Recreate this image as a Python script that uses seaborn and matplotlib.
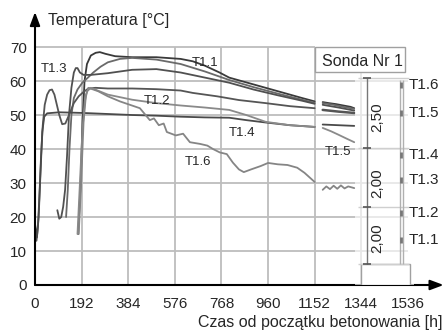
import numpy as np
import pandas as pd
import matplotlib
matplotlib.use('Agg')
import matplotlib.pyplot as plt
from matplotlib.patches import Rectangle
import seaborn as sns

# --- dane (czas [h], temperatura [C]) ---
czas_t11 = [178, 188, 196, 204, 214, 230, 250, 267, 290, 330, 400, 500, 600, 650, 700, 760, 800, 900, 1000, 1100, 1152]
temp_t11 = [15, 30, 48, 60, 65, 67.5, 68.3, 68.5, 68, 67.3, 67, 67, 66.5, 65.8, 64.5, 62.5, 61, 59, 57, 55, 54]
czas_t11_k = [1185, 1210, 1240, 1270, 1300, 1315]
temp_t11_k = [53.8, 53.5, 53.2, 52.8, 52.4, 52]

czas_dod = [128, 135, 142, 150, 160, 175, 195, 218, 240, 270, 300, 350, 400, 500, 600, 700, 800, 900, 1000, 1100, 1152]
temp_dod = [20, 28, 40, 50, 55, 57.5, 59.5, 61, 62.5, 64.2, 65.5, 66.5, 66.8, 66.3, 65, 62.8, 60.3, 58.2, 56.3, 54.5, 53.6]
czas_dod_k = [1185, 1230, 1270, 1315]
temp_dod_k = [53.5, 53, 52.4, 51.8]

czas_t13 = [92, 100, 108, 116, 124, 132, 140, 150, 160, 168, 175, 185, 200, 230, 300, 400, 500, 600, 700, 800, 900, 1000, 1100, 1152]
temp_t13 = [22, 19.5, 20, 23, 28, 38, 50, 58, 62.5, 63.8, 63.8, 62.5, 61.8, 61.8, 62.3, 63.3, 63.5, 62.5, 61, 59.5, 57.5, 55.8, 54.2, 53.3]
czas_t13_k = [1185, 1250, 1315]
temp_t13_k = [53, 52.2, 51.3]

czas_t12 = [0, 6, 12, 18, 25, 32, 40, 50, 60, 70, 80, 90, 100, 112, 125, 140, 160, 180, 200, 220, 250, 300, 400, 500, 600, 650, 750, 840, 950, 1050, 1152]
temp_t12 = [15, 13, 17, 26, 38, 47, 53, 56, 57.3, 57.5, 56, 53, 50, 47.3, 47.5, 50, 53.5, 55.5, 56.8, 57.8, 58, 57.8, 57.8, 57.6, 57.2, 56.5, 55.5, 54.4, 53.5, 52.6, 52]
czas_t12_k = [1185, 1250, 1315]
temp_t12_k = [51.5, 51, 50.6]

czas_t14 = [0, 8, 15, 22, 30, 38, 50, 100, 200, 300, 400, 500, 600, 700, 800, 870, 950, 1050, 1152]
temp_t14 = [18, 14, 20, 32, 45, 49.5, 50.5, 50.8, 50.6, 50.3, 50, 49.8, 49.5, 49.3, 49.2, 48.5, 47.8, 47, 46.5]
czas_t14_k = [1185, 1250, 1315]
temp_t14_k = [47.2, 47, 46.8]

czas_t15 = [175, 185, 195, 205, 215, 230, 300, 400, 500, 600, 700, 800, 870, 950, 1050, 1152]
temp_t15 = [15, 30, 45, 54, 57, 58, 56, 54.5, 53.5, 52.8, 52.2, 51.5, 50, 48, 47, 46.5]
czas_t15_k = [1185, 1220, 1250, 1285, 1315]
temp_t15_k = [46.2, 45.2, 44.2, 43, 42]

czas_t16 = [180, 190, 200, 210, 220, 260, 300, 350, 432, 473, 490, 510, 530, 543, 580, 610, 638, 680, 710, 733, 761, 790, 815, 840, 860, 890, 930, 960, 1000, 1040, 1080, 1110, 1152]
temp_t16 = [15, 30, 48, 56, 58, 57, 55.5, 54, 52, 48.5, 49, 47, 47.5, 45, 44, 44.5, 42, 41.5, 41, 40, 39, 38.5, 36, 34, 33.2, 34, 35, 35.9, 35.5, 35.3, 34.5, 33, 30.3]
czas_t16_k = [1185, 1200, 1215, 1230, 1245, 1260, 1275, 1290, 1315]
temp_t16_k = [28, 29, 28.2, 29.2, 28.3, 29.3, 28.4, 29, 28.5]

sondy = ['T1.1', 'T1.x', 'T1.3', 'T1.2', 'T1.4', 'T1.5', 'T1.6']
serie = [
    (czas_t11, temp_t11, czas_t11_k, temp_t11_k),
    (czas_dod, temp_dod, czas_dod_k, temp_dod_k),
    (czas_t13, temp_t13, czas_t13_k, temp_t13_k),
    (czas_t12, temp_t12, czas_t12_k, temp_t12_k),
    (czas_t14, temp_t14, czas_t14_k, temp_t14_k),
    (czas_t15, temp_t15, czas_t15_k, temp_t15_k),
    (czas_t16, temp_t16, czas_t16_k, temp_t16_k),
]
kolory = {'T1.1': '#3a3a3a', 'T1.x': '#6a6a6a', 'T1.3': '#505050', 'T1.2': '#555555',
          'T1.4': '#4a4a4a', 'T1.5': '#8a8a8a', 'T1.6': '#858585'}

rows = []
for nazwa, (c1, t1, c2, t2) in zip(sondy, serie):
    for c, t in zip(c1, t1):
        rows.append((nazwa, nazwa + '_a', c, t))
    for c, t in zip(c2, t2):
        rows.append((nazwa, nazwa + '_b', c, t))
df = pd.DataFrame(rows, columns=['sonda', 'odcinek', 'czas', 'temp'])

# etykiety krzywych
etykiety = ['T1.1', 'T1.2', 'T1.3', 'T1.4', 'T1.5', 'T1.6']
etyk_x = [700, 502, 78, 852, 1247, 671]
etyk_y = [65.4, 54.1, 63.5, 44.7, 39.0, 36.2]

# schemat sondy
czujniki = ['T1.6', 'T1.5', 'T1.4', 'T1.3', 'T1.2', 'T1.1']
czujniki_y = [58.8, 50.6, 38.2, 30.9, 21.2, 13.2]
wymiary = ['2,50', '2,00', '2,00']
wymiary_y = [49.4, 30.0, 13.8]
kreski_y = [60.9, 40.3, 22.9, 6.2]

sns.set_style('white')
plt.rcParams['font.family'] = ['Liberation Sans', 'DejaVu Sans']

fig = plt.figure(figsize=(4.44, 3.36), dpi=100)
ax = fig.add_axes([35/444, 51/336, 408.6/444, 273/336])
ax.set_xlim(0, 1683)
ax.set_ylim(0, 80.3)

# siatka
siatka = '#bdbdbd'
ax.hlines(np.arange(10, 71, 10), 0, 1152, color=siatka, lw=1.3, zorder=1)
ax.hlines(np.arange(10, 61, 10), 1152, 1536, color=siatka, lw=1.3, zorder=1)
ax.vlines(np.arange(192, 1345, 192), 0, 70, color=siatka, lw=1.3, zorder=1)

sns.lineplot(data=df, x='czas', y='temp', hue='sonda', units='odcinek', estimator=None,
             palette=kolory, legend=False, lw=1.3, ax=ax, zorder=3, sort=False)
ax.lines[-7].set_linewidth(1.8)

for lab, x, y in zip(etykiety, etyk_x, etyk_y):
    ax.text(x, y, lab, fontsize=9.5, ha='center', va='center', zorder=5)

# jasne tlo pod schematem
ax.add_patch(Rectangle((1320, 0), 240, 62.6, fc='white', ec='none', alpha=0.65, zorder=4))
ax.add_patch(Rectangle((1152, 62.6), 371, 7.4, fc='white', ec='#a0a0a0', lw=1, zorder=5))
ax.text(1350, 65.6, 'Sonda Nr 1', fontsize=11.5, ha='center', va='center', zorder=6)

ax.add_patch(Rectangle((1341, 0), 202, 6.2, fc='white', ec='#a0a0a0', lw=1, zorder=5))
ax.vlines([1366], 6.2, 60.9, color='#777777', lw=1, zorder=6)
ax.hlines(kreski_y, 1330, 1540, color='#cfcfcf', lw=1, zorder=5)
ax.plot([1366] * len(kreski_y), kreski_y, ls='none', marker='_', ms=6, mew=1.2, color='#555555', zorder=6)
ax.vlines([1502, 1514], 6.2, 60.3, color='#b0b0b0', lw=1, zorder=5)
ax.plot([1508] * len(czujniki_y), czujniki_y, ls='none', marker='|', ms=5, mew=2, color='#777777', zorder=6)
for lab, y in zip(czujniki, czujniki_y):
    ax.text(1539, y, lab, fontsize=11, ha='left', va='center', zorder=6)
for lab, y in zip(wymiary, wymiary_y):
    ax.text(1411, y, lab, fontsize=11, rotation=90, ha='center', va='center', zorder=6)

# osie ze strzalkami
sns.despine(ax=ax, left=True, bottom=True)
ax.annotate('', xy=(1683, 0), xytext=(0, 0), annotation_clip=False,
            arrowprops=dict(arrowstyle='-|>,head_length=0.8,head_width=0.3', color='black', lw=1.5, shrinkA=0, shrinkB=0))
ax.annotate('', xy=(0, 80.3), xytext=(0, 0), annotation_clip=False,
            arrowprops=dict(arrowstyle='-|>,head_length=0.8,head_width=0.3', color='black', lw=1.5, shrinkA=0, shrinkB=0))

ax.set_xticks(np.arange(0, 1537, 192))
ax.set_yticks(np.arange(0, 71, 10))
ax.tick_params(length=0, labelsize=11)
ax.tick_params(axis='x', pad=9)
ax.tick_params(axis='y', pad=6)
ax.set_xlabel('')
ax.set_ylabel('')

fig.text(48/444, 1 - 20/336, 'Temperatura [°C]', fontsize=11.5, ha='left', va='center')
fig.text(442/444, 1 - 323/336, 'Czas od początku betonowania [h]', fontsize=11.5, ha='right', va='center')

fig.savefig('out.png', dpi=100)
